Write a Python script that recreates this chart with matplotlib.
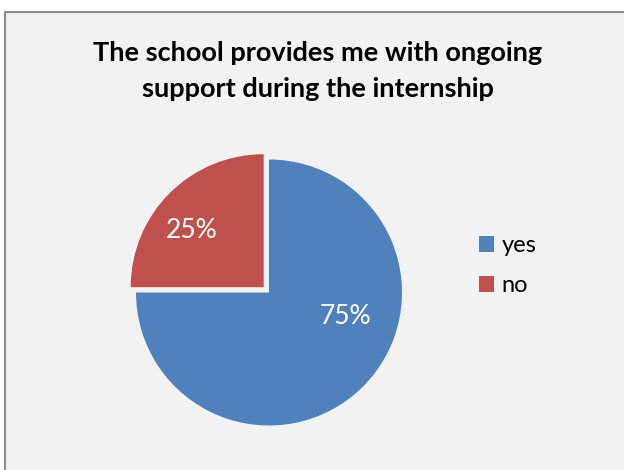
import matplotlib
matplotlib.use("Agg")
import matplotlib.pyplot as plt
from matplotlib.patches import Rectangle

categories = ["yes", "no"]
values = [75, 25]
colors = ["#4f81bd", "#c0504d"]
title = "The school provides me with ongoing\nsupport during the internship"

W, H = 624, 470
fig = plt.figure(figsize=(W / 100, H / 100), dpi=100)
fig.patch.set_facecolor("white")

# chart area frame
frame = Rectangle((5 / W, -0.1), 2.0, (H - 12) / H + 0.1,
                  transform=fig.transFigure, facecolor="#f2f2f2",
                  edgecolor="#8c8c8c", linewidth=1.5, zorder=-10)
fig.patches.append(frame)

ax = fig.add_axes([0, 0, 1, 1])
ax.set_zorder(1)
ax.set_facecolor("none")
wedges, texts, autotexts = ax.pie(
    values, colors=colors, startangle=90, counterclock=False,
    center=(269, H - 292.5), radius=133, explode=[0, 7.5],
    autopct="%d%%", pctdistance=0.6,
    wedgeprops=dict(edgecolor="none"),
    textprops=dict(color="white", fontsize=19, family="Lato"))
ax.set_xlim(0, W)
ax.set_ylim(0, H)
ax.set_aspect("auto")
ax.axis("off")

autotexts[0].set_position((345, H - 317))
autotexts[1].set_position((192, H - 231))

fig.text(318 / W, 1 - 71 / H, title, ha="center", va="center",
         fontsize=19.5, fontweight="bold", family="Lato", color="black",
         linespacing=1.6, zorder=5)

leg = fig.legend(wedges, categories, loc="upper left",
                 bbox_to_anchor=(479 / W, 1 - 235 / H),
                 frameon=False, handlelength=0.64, borderpad=0,
                 borderaxespad=0, handleheight=0.64, handletextpad=0.32,
                 labelspacing=0.82, prop=dict(family="Lato", size=17))
leg.set_zorder(5)

fig.savefig("out.png", dpi=100, facecolor="white")
